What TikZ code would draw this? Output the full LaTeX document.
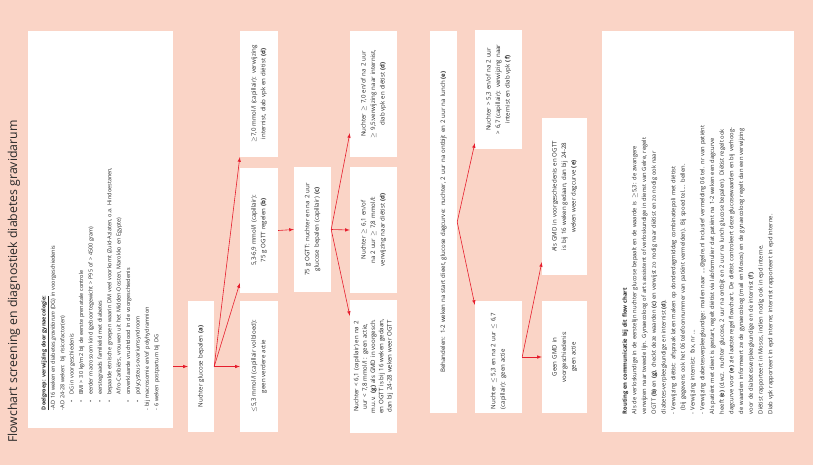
\documentclass[tikz,border=0pt]{standalone}
\usepackage{fontspec}
\setmainfont{Open Sans}
\usepackage{tikz}
\usetikzlibrary{arrows}

\definecolor{zalm}{RGB}{250,212,198}
\definecolor{pijlrood}{RGB}{230,30,45}
\definecolor{tekst}{RGB}{40,40,40}

\begin{document}
\begin{tikzpicture}[x=1pt, y=-1pt,
  stap/.style={fill=white, rotate=90, inner xsep=3pt, inner ysep=1pt, align=center,
    text=tekst, font=\fontsize{6.1}{9.5}\selectfont},
  pijl/.style={draw=pijlrood, line width=0.6pt, -latex}]
\useasboundingbox (0,0) rectangle (813,472);
\fill[zalm] (0,0) rectangle (813,465);

% titel
\node[rotate=90, anchor=base west, inner sep=0pt, text=tekst,
  font=\fontsize{12.3}{15}\selectfont] (titel) at (17,443)
  {Flowchart screening en diagnostiek diabetes gravidarum};

% doelgroep
\node[stap, align=left, inner xsep=18pt, minimum width=397pt, minimum height=145pt,
  text width=361pt, font=\fontsize{5.5}{9.4}\selectfont] (doel) at (100.5,229.5) {%
\underline{\textbf{Doelgroep: verwijzing door gynaecologie:}}\\
-AD 16 weken en diabetes \textit{gravidarum} (DG) in voorgeschiedenis\\
-AD 24-28 weken: bij risicofactor(en)\\
\hspace*{8pt}\textbullet\hspace{5pt}DG in voorgeschiedenis\\
\hspace*{8pt}\textbullet\hspace{5pt}BMI > 30 kg/m2 bij de eerste prenatale controle\\
\hspace*{8pt}\textbullet\hspace{5pt}eerder macrosoom kind (geboortegewicht > P95 of > 4500 gram)\\
\hspace*{8pt}\textbullet\hspace{5pt}eerstegraads familielid met diabetes\\
\hspace*{8pt}\textbullet\hspace{5pt}bepaalde etnische groepen waarin DM veel voorkomt (Zuid-Aziaten, o.a. Hindoestanen,\\
\hspace*{16pt}Afro-Caribiërs, vrouwen uit het Midden-Oosten, Marokko en Egypte)\\
\hspace*{8pt}\textbullet\hspace{5pt}onverklaarde vruchtdood in de voorgeschiedenis\\
\hspace*{8pt}\textbullet\hspace{5pt}polycysteus-ovariumsyndroom\\
- bij macrosomie en/of polyhydramnion\\
- 6 weken postpartum bij DG};

% eerste meting
\node[stap, minimum width=131pt, minimum height=26pt, text width=125pt] (nuchter) at (201,366.5)
  {Nuchter glucose bepalen \textbf{(a)}};
\node[stap, minimum width=131pt, minimum height=38pt, text width=125pt] (laag) at (259,366.5)
  {$\leq$5,3 mmol/l (capillair volbloed):\\ geen verdere actie};
\node[stap, minimum width=125pt, minimum height=38pt, text width=119pt] (midden) at (259,230.5)
  {5,3-6,9 mmol/l (capillair):\\ 75 g OGTT regelen \textbf{(b)}};
\node[stap, minimum width=126pt, minimum height=38pt, text width=120pt] (hoog) at (259,94)
  {$\geq$7,0 mmol/l (capillair): verwijzing\\ internist, diab vpk en diëtist \textbf{(d)}};

% OGTT
\node[stap, minimum width=125pt, minimum height=37pt, text width=119pt] (ogtt) at (312.5,229.5)
  {75 g OGTT: nuchter en na 2 uur\\ glucose bepalen (capillair) \textbf{(c)}};
\node[stap, minimum width=126pt, minimum height=47pt, text width=120pt] (ogttHoog) at (373.5,94)
  {Nuchter $\geq$ 7,0 en/of na 2 uur\\ $\geq$ 9,5:verwijzing naar internist,\\ diab vpk en diëtist \textbf{(d)}};
\node[stap, minimum width=126pt, minimum height=47pt, text width=120pt] (ogttMid) at (373.5,230)
  {Nuchter $\geq$ 6,1 en/of\\ na 2 uur $\geq$ 7,8 mmol/l:\\ verwijzing naar diëtist \textbf{(d)}};
\node[stap, minimum width=131pt, minimum height=47pt, text width=127pt,
  font=\fontsize{6.1}{8.3}\selectfont] (ogttLaag) at (373.5,366.5)
  {Nuchter < 6,1 (capillair) en na 2\\ uur < 7,8 mmol/l : geen actie,\\ m.u.v. \textbf{(g)} als GMD in voorgesch.\\
   en OGTT is bij 16 weken gedaan,\\ dan bij 24-28 weken weer OGTT};

% dagcurve
\node[stap, minimum width=382pt, minimum height=27pt, text width=376pt] (behandel) at (443.5,222)
  {Behandelen: 1-2 weken na start dieet, glucose dagcurve: nuchter, 2 uur na ontbijt en 2 uur na lunch \textbf{(e)}};
\node[stap, minimum width=117pt, minimum height=47pt, text width=113pt] (dagHoog) at (498.5,89.5)
  {Nuchter > 5,3 en/of na 2 uur\\ > 6,7 (capillair): verwijzing naar\\ internist en diab vpk \textbf{(f)}};
\node[stap, align=left, minimum width=112pt, minimum height=47pt, text width=104pt] (dagLaag) at (498.5,357)
  {Nuchter $\leq$ 5,3 en na 2 uur $\leq$ 6,7\\ (capillair): geen actie};
\node[stap, minimum width=157pt, minimum height=45pt, text width=151pt] (alsGMD) at (564.5,196.5)
  {Als GMD in voorgeschiedenis en OGTT\\ is bij 16 weken gedaan, dan bij 24-28\\ weken weer dagcurve \textbf{(e)}};
\node[stap, minimum width=112pt, minimum height=45pt, text width=106pt] (geenGMD) at (564.5,357)
  {Geen GMD in\\ voorgeschiedenis:\\ geen actie};

% routing
\node[stap, align=left, inner xsep=18pt, minimum width=401pt, minimum height=192pt,
  text width=365pt, font=\fontsize{5.8}{9.7}\selectfont] (routing) at (698,231.5) {%
\textbf{Routing en communicatie bij dit flow chart}\\
Als de verloskundige in de eerstelijn nuchter glucose bepaalt en de waarde is \,$\geq$5,3: de zwangere\\
verwijzen naar tweede lijn. Gynaecoloog of arts assistent of verloskundige in dienst van Gelre, regelt\\
OGTT \textbf{(b)} en \textbf{(g)}, checkt deze waarden \textbf{(c)} en verwijst zo nodig naar diëtist en zo nodig ook naar\\
diabetes-verpleegkundige en internist \textbf{(d)}.\\
- Verwijzing diëtist: afspraak laten maken op donderdagmiddag combinatiepoli met diëtist\\
\hspace*{4pt}(bij gegevens ook het 06 telefoonnummer van patiënt vermelden). Bij spoed tel.... bellen.\\
- Verwijzing internist: fax, nr ...\\
- Verwijzing diabetesverpleegkundige: mailen naar ....@gelre.nl inclusief vermelding 06 tel. nr van patiënt\\
Als patiënt met dieet is gestart, regelt diëtist via labformulier dat patiënt na 1-2 weken een dagcurve\\
heeft \textbf{(e)} (d.w.z. nuchter glucose, 2 uur na ontbijt en 2 uur na lunch glucose bepalen). Diëtist regelt ook\\
dagcurve voor \textbf{(e)} zie laatste regel flowchart. De diëtist controleert deze glucosewaarden en bij verhoog-\\
de waarden informeert ze de gynaecoloog (mail en Mosos) en de gynaecoloog regelt dan een verwijzing\\
voor de diabetesverpleegkundige en de internist \textbf{(f)}.\\
Diëtist rapporteert in Mosos, indien nodig ook in epd interne.\\
Diab vpk rapporteert in epd interne; internist rapporteert in epd interne.};

% pijlen
\draw[pijl] (doel.south |- nuchter.north) -- (nuchter.north);
\draw[pijl] (nuchter.south) -- (laag.north);
\draw[pijl] (nuchter.south) -- ([yshift=10pt]midden.north west);
\draw[pijl] (nuchter.south) -- (hoog.north west);
\draw[pijl] (midden.south) -- (ogtt.north);
\draw[pijl] (ogtt.south) -- ([yshift=24pt]ogttHoog.north west);
\draw[pijl] (ogtt.south) -- (ogttMid.north);
\draw[pijl] (ogtt.south) -- ([yshift=-16pt]ogttLaag.north east);
\draw[pijl] (behandel.south) -- ([yshift=6pt]dagHoog.north west);
\draw[pijl] (behandel.south) -- ([yshift=-4pt]dagLaag.north east);
\draw[pijl] (dagLaag.south) -- (geenGMD.north);
\draw[pijl] (dagLaag.south) -- ([yshift=13pt]alsGMD.north west);
\end{tikzpicture}
\end{document}
